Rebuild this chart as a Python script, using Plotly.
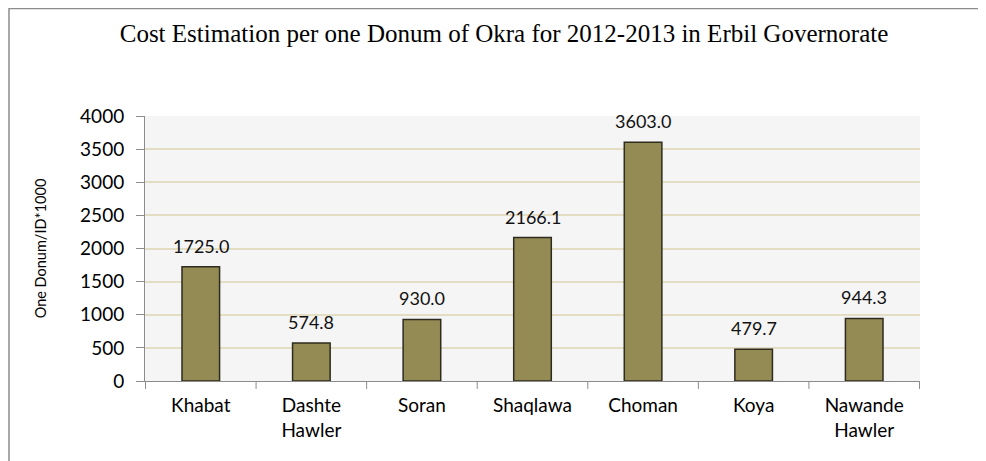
import plotly.graph_objects as go

# Cost per one donum of okra, 2012-2013, Erbil governorate
districts = ["Khabat", "Dashte<br>Hawler", "Soran", "Shaqlawa", "Choman", "Koya", "Nawande<br>Hawler"]
cost = [1725.0, 574.8, 930.0, 2166.1, 3603.0, 479.7, 944.3]
y_ticks = [0, 500, 1000, 1500, 2000, 2500, 3000, 3500, 4000]

# page adds an 8px body margin, so the figure is laid out 8px up/left
W, H = 986, 461
L, R, T, B = 137, 74, 108, 88
FONT = "Lato"

fig = go.Figure()
fig.add_trace(go.Bar(
    x=districts,
    y=cost,
    width=0.34,
    marker=dict(color="#948a54", line=dict(color="#2e2c1e", width=1.5)),
    hoverinfo="x+y",
))

# value labels above each bar
for d, v in zip(districts, cost):
    fig.add_annotation(x=d, y=v, text=f"{v:.1f}", showarrow=False,
                       yanchor="bottom", yshift=8,
                       font=dict(family=FONT, size=18, color="#111111"))

# outer chart frame (runs off the right/bottom edge like the source)
pw, ph = W - L - R, H - T - B
fig.add_shape(type="rect", xref="paper", yref="paper",
              x0=(1 - L) / pw, x1=(995 - L) / pw,
              y0=(H - B - 470) / ph, y1=(H - B - 0.5) / ph,
              line=dict(color="#8c8c8c", width=1.5), layer="below")

fig.update_layout(
    width=W, height=H,
    margin=dict(l=L, r=R, t=T, b=B),
    paper_bgcolor="white",
    plot_bgcolor="#f5f5f5",
    showlegend=False,
    title=dict(
        text="Cost Estimation per one Donum of Okra for 2012-2013 in Erbil Governorate",
        x=496 / W, xref="container", xanchor="center",
        y=1 - 25 / H, yref="container", yanchor="middle",
        font=dict(family="Liberation Serif", size=25, color="#000000"),
    ),
    xaxis=dict(
        showline=True, linecolor="#8c8c8c", linewidth=1,
        ticks="", showgrid=False,
        ticklabelstandoff=7,
        tickfont=dict(family=FONT, size=19, color="#000000"),
    ),
    yaxis=dict(
        range=[0, 4000],
        tickvals=y_ticks,
        showline=True, linecolor="#8c8c8c", linewidth=1,
        ticks="outside", ticklen=8, tickcolor="#8c8c8c",
        ticklabelstandoff=8,
        showgrid=True, gridcolor="#e3ddc4", gridwidth=1.5,
        zeroline=False,
        tickfont=dict(family=FONT, size=19, color="#000000"),
        title=dict(text="One Donum/ID*1000", standoff=30,
                   font=dict(family=FONT, size=14.5, color="#000000")),
    ),
)

# category tick marks between groups
for i in range(len(districts) + 1):
    fig.add_shape(type="line", xref="x", yref="paper",
                  x0=i - 0.5, x1=i - 0.5, y0=0, y1=-0.03,
                  line=dict(color="#8c8c8c", width=1))

fig.write_html("out.html")
